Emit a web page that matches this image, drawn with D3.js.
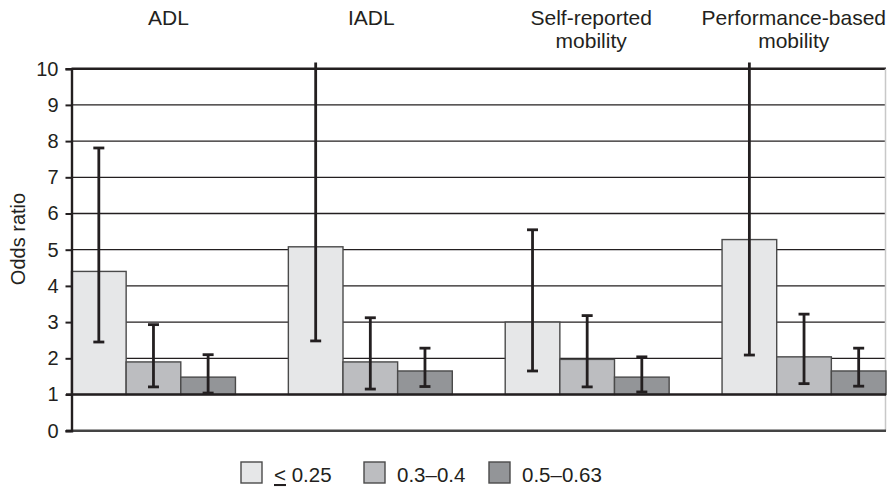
<!DOCTYPE html>
<html>
<head>
<meta charset="utf-8">
<script src="https://cdn.jsdelivr.net/npm/d3@7"></script>
<style>
  body { margin: 0; background: #fff; }
  text { font-family: "Liberation Sans", Arial, sans-serif; fill: #231f20; }
</style>
</head>
<body>
<script>
// data
var categories = [["ADL"], ["IADL"], ["Self-reported", "mobility"], ["Performance-based", "mobility"]];
var seriesNames = ["<= 0.25", "0.3–0.4", "0.5–0.63"];
var oddsRatio = [
  [4.40, 1.90, 1.48],
  [5.08, 1.90, 1.65],
  [3.00, 1.97, 1.48],
  [5.28, 2.04, 1.65]
];
var ciLow = [
  [2.45, 1.21, 1.04],
  [2.48, 1.15, 1.22],
  [1.65, 1.21, 1.07],
  [2.09, 1.30, 1.23]
];
var ciHigh = [
  [7.81, 2.93, 2.10],
  [12.0, 3.12, 2.28],
  [5.55, 3.18, 2.04],
  [12.0, 3.22, 2.28]
];
var yTicks = [0, 1, 2, 3, 4, 5, 6, 7, 8, 9, 10];

var W = 887, H = 489;
var fills = ["#e6e7e8", "#bcbdc0", "#939598"];
var ink = "#231f20";

var svg = d3.select("body").append("svg")
  .attr("width", W)
  .attr("height", H);

var y = d3.scaleLinear().domain([0, 10]).range([430.7, 68.7]);
var x0 = d3.scaleBand().domain(d3.range(categories.length))
  .range([71.5, 886]).paddingInner(0.244).paddingOuter(0);
var x1 = d3.scaleBand().domain(d3.range(seriesNames.length))
  .range([0, x0.bandwidth()]);

// grid lines 2..9 (hidden behind bars)
svg.append("g").selectAll("line")
  .data(yTicks.filter(d => d > 1 && d < 10))
  .enter().append("line")
  .attr("x1", 71.5).attr("x2", 886)
  .attr("y1", d => y(d)).attr("y2", d => y(d))
  .attr("stroke", ink).attr("stroke-width", 1.3);

// top line at 10
svg.append("line")
  .attr("x1", 71.5).attr("x2", 886)
  .attr("y1", y(10)).attr("y2", y(10))
  .attr("stroke", ink).attr("stroke-width", 2.4);

// right border
svg.append("line")
  .attr("x1", 885.5).attr("x2", 885.5)
  .attr("y1", y(10)).attr("y2", y(0))
  .attr("stroke", "#c8c8c8").attr("stroke-width", 1.5);

// bars, starting at odds ratio 1
var groups = svg.append("g").selectAll("g")
  .data(oddsRatio)
  .enter().append("g")
  .attr("transform", (d, i) => "translate(" + x0(i) + ",0)");

groups.selectAll("rect")
  .data(d => d)
  .enter().append("rect")
  .attr("x", (d, j) => x1(j))
  .attr("width", x1.bandwidth())
  .attr("y", d => y(d))
  .attr("height", d => y(1) - y(d))
  .attr("fill", (d, j) => fills[j])
  .attr("stroke", "#4a4a4a")
  .attr("stroke-width", 1.4);

// line at 1
svg.append("line")
  .attr("x1", 66).attr("x2", 886)
  .attr("y1", y(1)).attr("y2", y(1))
  .attr("stroke", ink).attr("stroke-width", 2.6);

// x axis at 0
svg.append("line")
  .attr("x1", 66).attr("x2", 886)
  .attr("y1", y(0)).attr("y2", y(0))
  .attr("stroke", "#444").attr("stroke-width", 2.6);

// y axis
var yAxis = svg.append("g")
  .attr("transform", "translate(71.5,0)")
  .call(d3.axisLeft(y).tickValues(yTicks).tickSize(6).tickPadding(7).tickFormat(d3.format("d")));
yAxis.select(".domain").attr("stroke", ink).attr("stroke-width", 2.4);
yAxis.selectAll(".tick line").attr("stroke", ink).attr("stroke-width", 2);
yAxis.selectAll(".tick text")
  .style("font-family", "'Liberation Sans', Arial, sans-serif")
  .style("font-size", "20px").attr("fill", ink);

// error bars
var yClip = 10.17;
var capW = 11;
var eb = [];
oddsRatio.forEach((row, i) => row.forEach((v, j) => {
  eb.push({ cx: x0(i) + x1(j) + x1.bandwidth() / 2, lo: ciLow[i][j], hi: ciHigh[i][j] });
}));
var ebg = svg.append("g").attr("stroke", ink).attr("stroke-width", 2.8);
ebg.selectAll(".stem").data(eb).enter().append("line")
  .attr("x1", d => d.cx).attr("x2", d => d.cx)
  .attr("y1", d => y(d.lo)).attr("y2", d => y(Math.min(d.hi, yClip)));
ebg.selectAll(".lo").data(eb).enter().append("line")
  .attr("x1", d => d.cx - capW / 2).attr("x2", d => d.cx + capW / 2)
  .attr("y1", d => y(d.lo)).attr("y2", d => y(d.lo));
ebg.selectAll(".hi").data(eb.filter(d => d.hi <= 10)).enter().append("line")
  .attr("x1", d => d.cx - capW / 2).attr("x2", d => d.cx + capW / 2)
  .attr("y1", d => y(d.hi)).attr("y2", d => y(d.hi));

// category labels above the plot
var labelShift = [15, 1, 4, 0];
svg.append("g").selectAll("text")
  .data(categories)
  .enter().append("text")
  .attr("text-anchor", "middle")
  .style("font-size", "21px")
  .each(function (d, i) {
    var t = d3.select(this);
    var cx = x0(i) + x0.bandwidth() / 2 + labelShift[i];
    d.forEach((line, k) => {
      t.append("tspan").attr("x", cx).attr("y", 25 + k * 23).text(line);
    });
    var half = this.getBBox().width / 2;
    if (cx + half > W - 1) t.selectAll("tspan").attr("x", W - 1 - half);
  });

// y axis title
svg.append("text")
  .attr("transform", "translate(25,239) rotate(-90)")
  .attr("text-anchor", "middle")
  .style("font-size", "20px")
  .text("Odds ratio");

// legend
var legX = [241, 364, 489];
var leg = svg.append("g").selectAll("g")
  .data(seriesNames)
  .enter().append("g")
  .attr("transform", (d, j) => "translate(" + legX[j] + ",462)");
leg.append("rect")
  .attr("width", 21).attr("height", 21)
  .attr("fill", (d, j) => fills[j])
  .attr("stroke", "#4a4a4a").attr("stroke-width", 1.4);
leg.append("text")
  .attr("x", 33).attr("y", 20)
  .style("font-size", "20.5px")
  .each(function (d, j) {
    var t = d3.select(this);
    if (j === 0) {
      t.append("tspan").style("text-decoration", "underline").text("<");
      t.append("tspan").text(" 0.25");
    } else {
      t.text(d);
    }
  });
</script>
</body>
</html>
